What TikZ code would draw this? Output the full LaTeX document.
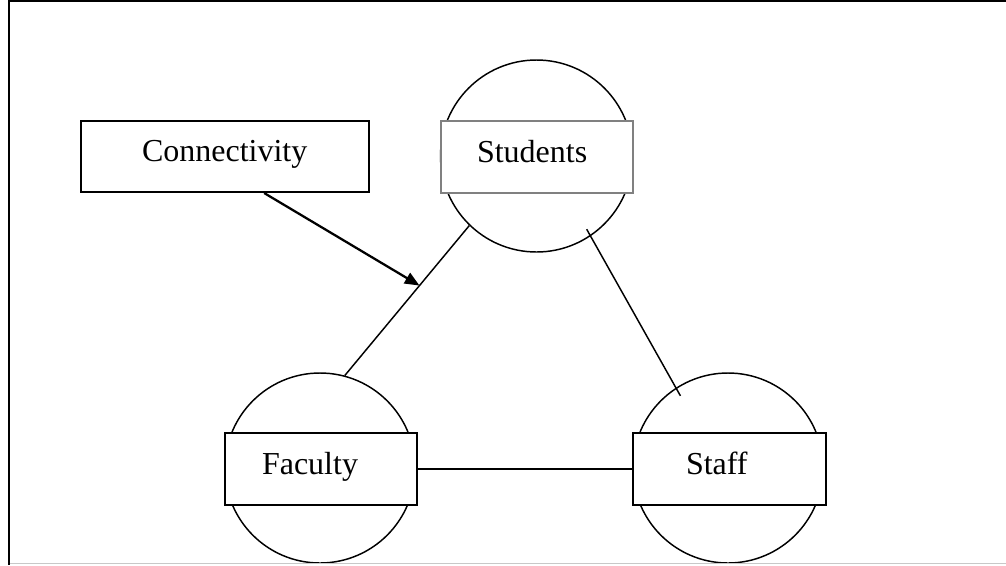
\documentclass[tikz,border=0pt]{standalone}
\usepackage{fontspec}
\setmainfont{Liberation Serif}
\usetikzlibrary{calc,arrows.meta}
\definecolor{boxgray}{RGB}{128,128,128}
\definecolor{framegray}{RGB}{200,200,200}
\begin{document}
\begin{tikzpicture}[x=0.75pt,y=-0.75pt,
  ring/.style={circle,draw,line width=1.1pt,inner sep=0pt},
  entbox/.style={draw,line width=1.5pt,fill=white,align=left,
    text height=16.5pt,text depth=9pt,inner ysep=0pt,minimum height=54pt,
    font=\fontsize{24}{28}\selectfont},
  link/.style={line width=1.1pt},
  arr/.style={line width=1.7pt,-{Triangle[length=11pt,width=9pt]}}]
\useasboundingbox (0,0) rectangle (1006,565);
\clip (0,0) rectangle (1006,565);
% circles
\node[ring,minimum size=144pt] (studc) at (536.5,156) {};
\node[ring,minimum size=142.5pt] (facc) at (320,468) {};
\node[ring,minimum size=142.5pt] (staffc) at (728,468) {};
% boxes
\node[entbox,draw=boxgray,line width=1pt,inner xsep=27pt,text width=90pt] (stud) at (537,157) {Students};
\node[entbox,inner xsep=27.75pt,text width=88.5pt] (fac) at (321,469) {Faculty};
\node[entbox,inner xsep=39.75pt,text width=65.25pt] (staff) at (729.5,469) {Staff};
\node[entbox,inner xsep=45.75pt,text width=124.5pt,minimum height=53.25pt] (conn) at (225,156.5) {Connectivity};
% connectors
\draw[link] (studc.226) -- (facc.75);
\draw[link,shorten <=-6pt,shorten >=-7pt] (studc.304) -- (staffc.123);
\draw[link] (fac.east) -- (staff.west);
\coordinate (tip) at ($(studc.226)!0.4!(facc.75)$);
\coordinate (start) at ($(conn.south west)!0.635!(conn.south east)$);
\draw[arr] (start) -- (tip);
% frame
\draw[line width=1.5pt] (9,565) -- (9,1) -- (1006,1);
\draw[line width=0.75pt,framegray] (10,563.5) -- (1006,563.5);
\end{tikzpicture}
\end{document}
